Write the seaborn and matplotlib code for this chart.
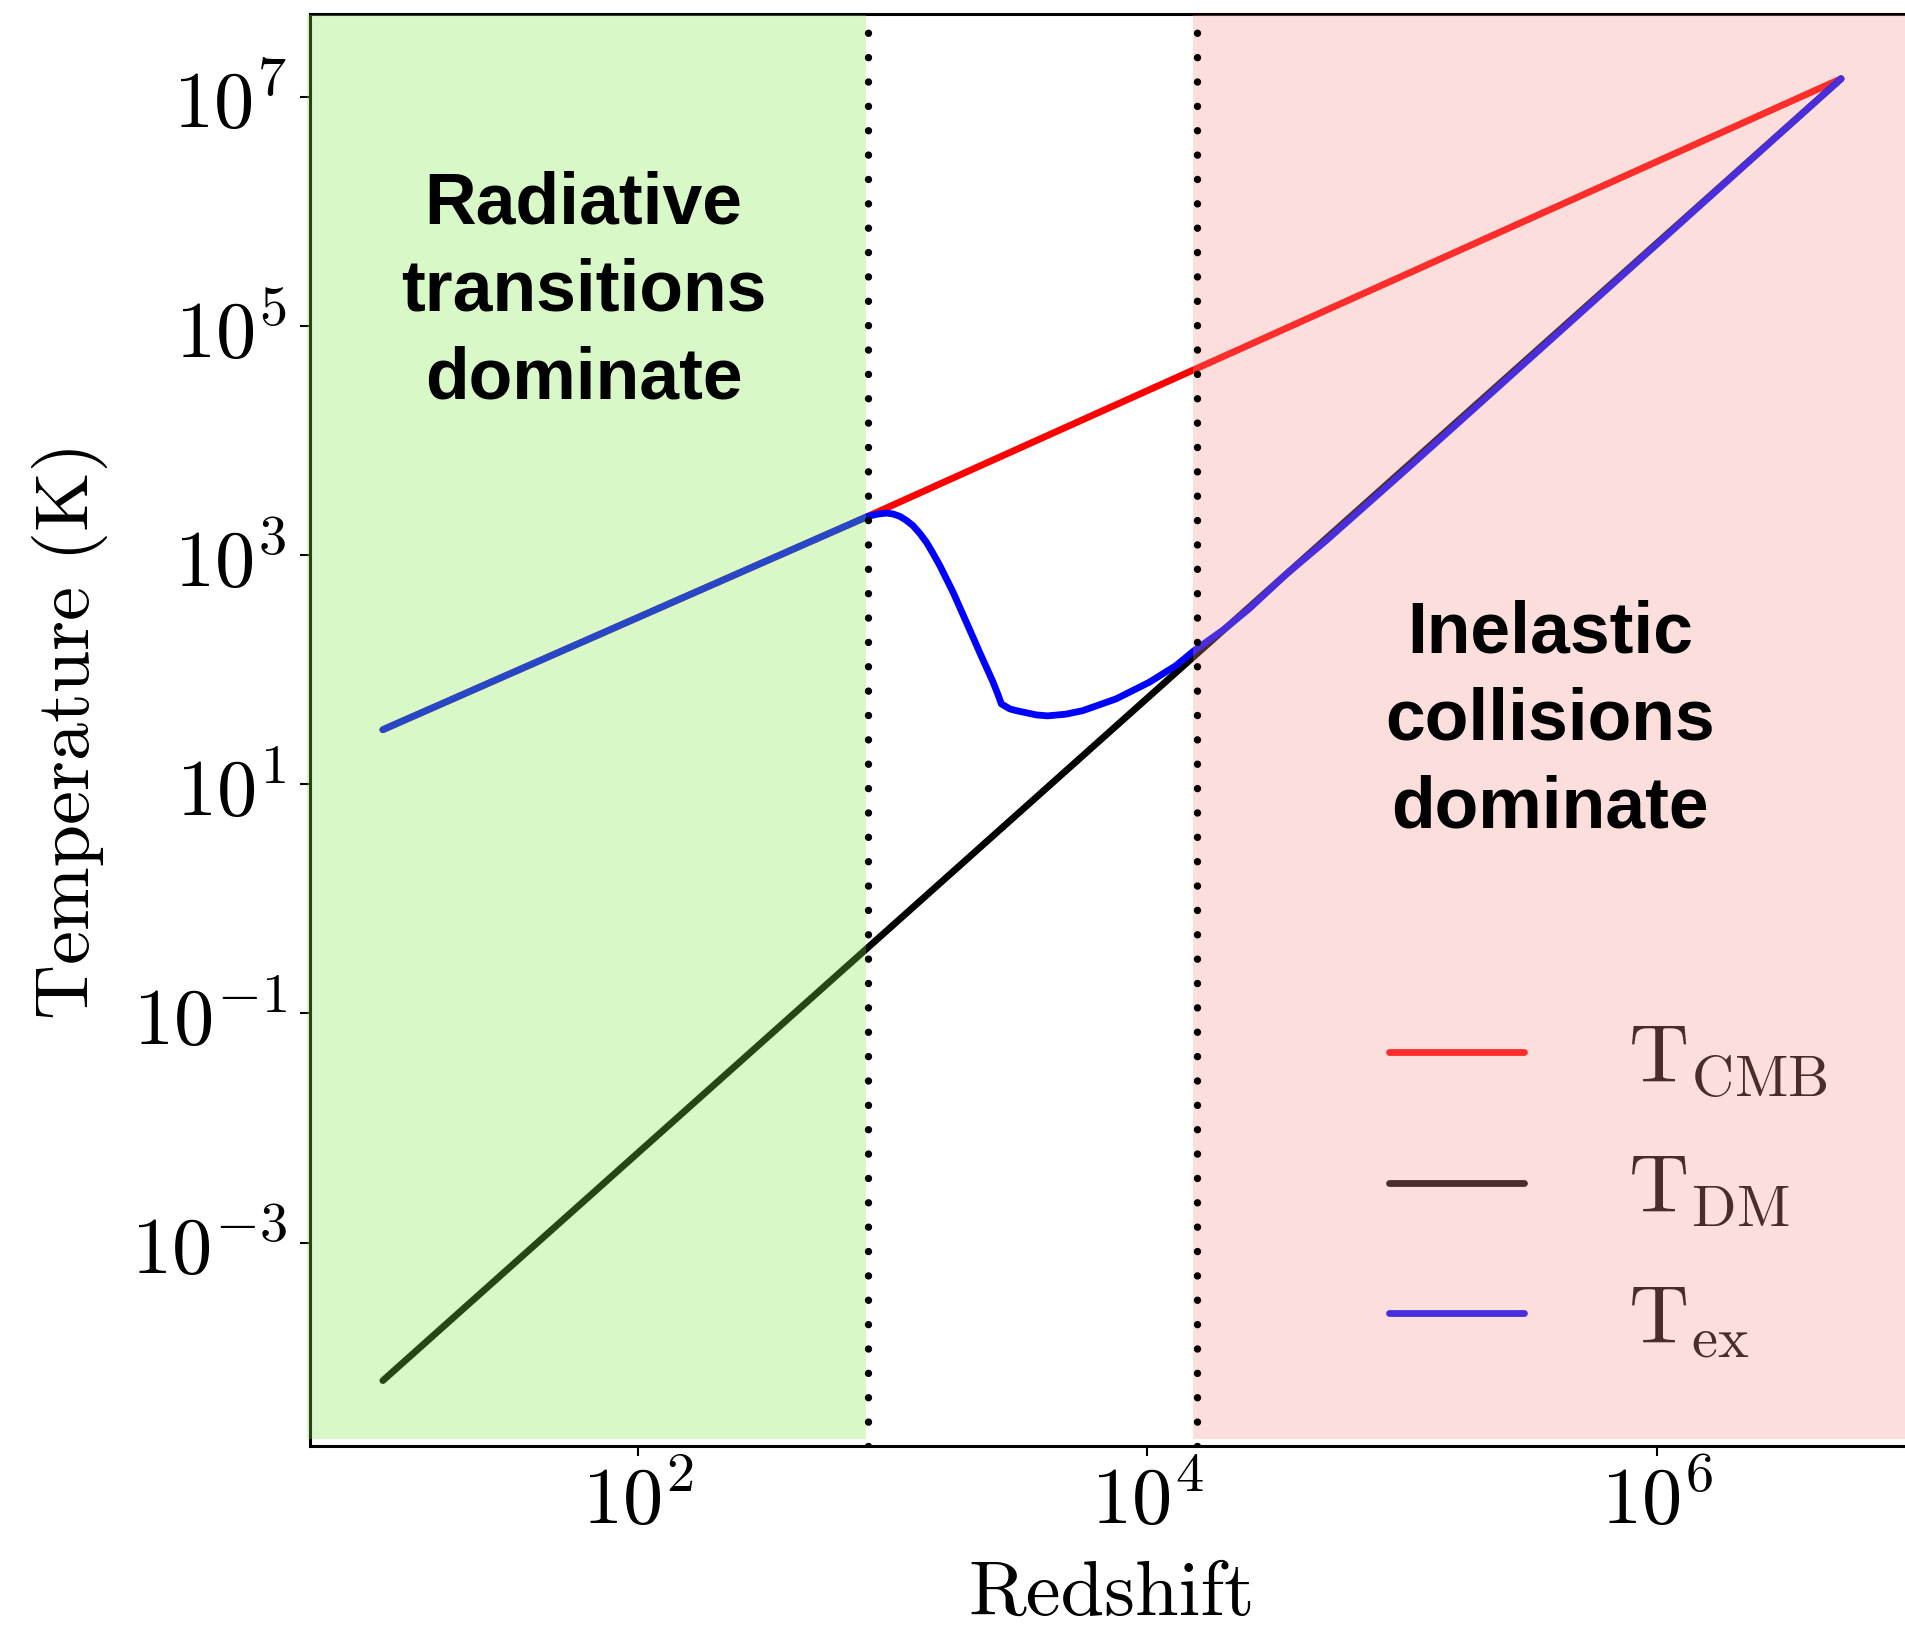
import numpy as np
import pandas as pd
import matplotlib
matplotlib.use("Agg")
import matplotlib.pyplot as plt
from matplotlib.ticker import NullLocator
import seaborn as sns

# ---------------- data ----------------
z_cmb = [10.0, 800.0, 5.28e6]
T_cmb = [30.0, 2183.0, 1.44e7]

z_dm = [10.0, 5.28e6]
T_dm = [6.25e-5, 1.44e7]

z_ex = [10.0, 800.0, 870.0, 948.0, 1005.0, 1069.0, 1135.0, 1205.0, 1280.0,
        1360.0, 1445.0, 1535.0, 1730.0, 1950.0, 2198.0, 2483.0, 2600.0,
        2674.0, 2884.0, 3062.0, 3665.0, 4062.0, 4800.0, 5585.0, 7540.0,
        10180.0, 12950.0, 15270.0, 2.0e4, 2.506e4, 3.5e4, 5.01e4, 1.0e5,
        1.58e5, 5.28e6]
T_ex = [30.0, 2183.0, 2280.0, 2333.0, 2290.0, 2183.0, 2010.0, 1807.0, 1550.0,
        1294.0, 1030.0, 809.0, 474.0, 260.0, 142.0, 77.8, 60.0,
        50.4, 45.6, 44.0, 40.4, 39.6, 41.0, 44.0, 55.7,
        77.8, 108.6, 146.9, 225.0, 339.6, 678.0, 1330.0, 5200.0,
        1.294e4, 1.44e7]

z_radiative_end = 800.0
z_collision_start = 1.57e4

xtick_vals = [1e2, 1e4, 1e6]
xtick_labels = [r'$\mathrm{10^{2}}$', r'$\mathrm{10^{4}}$', r'$\mathrm{10^{6}}$']
ytick_vals = [1e-3, 1e-1, 1e1, 1e3, 1e5, 1e7]
ytick_labels = [r'$\mathrm{10^{-3}}$', r'$\mathrm{10^{-1}}$', r'$\mathrm{10^{1}}$',
                r'$\mathrm{10^{3}}$', r'$\mathrm{10^{5}}$', r'$\mathrm{10^{7}}$']

series_labels = [r'$\mathrm{T_{CMB}}$', r'$\mathrm{T_{DM}}$', r'$\mathrm{T_{ex}}$']
region_labels = ['Radiative\ntransitions\ndominate', 'Inelastic\ncollisions\ndominate']

# ---------------- style ----------------
sns.set_theme(style="white")
plt.rcParams['mathtext.fontset'] = 'cm'
plt.rcParams['axes.edgecolor'] = 'black'
plt.rcParams['axes.linewidth'] = 2.2
plt.rcParams['xtick.color'] = 'black'
plt.rcParams['ytick.color'] = 'black'
plt.rcParams['text.color'] = 'black'
plt.rcParams['axes.labelcolor'] = 'black'

fig = plt.figure(figsize=(19.05, 16.31), dpi=100)
ax = fig.add_axes([0.1627, 0.113, 0.842, 0.878])
ax.set_xscale('log')
ax.set_yscale('log')

LW = 4.9
df_cmb = pd.DataFrame({'z': z_cmb, 'T': T_cmb})
df_dm = pd.DataFrame({'z': z_dm, 'T': T_dm})
df_ex = pd.DataFrame({'z': z_ex, 'T': T_ex})
sns.lineplot(data=df_cmb, x='z', y='T', ax=ax, color=(1, 0, 0), lw=LW,
             label=series_labels[0], estimator=None, zorder=3)
sns.lineplot(data=df_dm, x='z', y='T', ax=ax, color='black', lw=LW,
             label=series_labels[1], estimator=None, zorder=3)
sns.lineplot(data=df_ex, x='z', y='T', ax=ax, color=(0, 0, 1), lw=LW,
             label=series_labels[2], estimator=None, zorder=4)

ax.margins(0.05)
ax.autoscale_view()
xl = ax.get_xlim()
yl = ax.get_ylim()
ax.set_xlim(xl)
ax.set_ylim(yl)

# shaded regimes drawn on top of the curves (translucent)
green = (0.50, 0.93, 0.28)
pink = (0.967, 0.59, 0.55)
ax.axvspan(10 ** (np.log10(xl[0]) - 0.012), 790.0, ymin=0.005, ymax=0.999,
           color=green, alpha=0.3, lw=0, zorder=10, clip_on=False)
ax.axvspan(1.51e4, xl[1], ymin=0.005, ymax=0.999,
           color=pink, alpha=0.3, lw=0, zorder=10, clip_on=False)

for zv in [z_radiative_end, z_collision_start]:
    ax.axvline(zv, color='black', lw=5.3, linestyle=(0, (0.01, 3.3)),
               dash_capstyle='round', zorder=11)

# ticks
ax.set_xticks(xtick_vals)
ax.set_xticklabels(xtick_labels)
ax.set_yticks(ytick_vals)
ax.set_yticklabels(ytick_labels)
ax.xaxis.set_minor_locator(NullLocator())
ax.yaxis.set_minor_locator(NullLocator())
ax.tick_params(axis='both', which='major', length=7, width=1.5,
               labelsize=58, direction='out', bottom=True, left=True)
ax.tick_params(axis='x', pad=5)
ax.tick_params(axis='y', pad=10)

ax.set_xlabel('Redshift', fontsize=56.5, fontfamily='cmr10', labelpad=14)
ax.set_ylabel('Temperature (K)', fontsize=55, fontfamily='cmr10', labelpad=16)

# annotations
ax.text(0.1706, 0.8065, region_labels[0], transform=ax.transAxes,
        ha='center', va='center', fontsize=51.5, fontweight='bold',
        fontfamily='Liberation Sans', linespacing=1.37, zorder=12)
ax.text(0.773, 0.507, region_labels[1], transform=ax.transAxes,
        ha='center', va='center', fontsize=51.5, fontweight='bold',
        fontfamily='Liberation Sans', linespacing=1.37, zorder=12)

leg = ax.legend(loc='center left', bbox_to_anchor=(0.673, 0.18),
                frameon=False, fontsize=60, handlelength=1.62,
                handletextpad=1.24, labelspacing=0.59, borderpad=0,
                borderaxespad=0)
leg.set_zorder(5)

fig.savefig('out.png', dpi=100)
